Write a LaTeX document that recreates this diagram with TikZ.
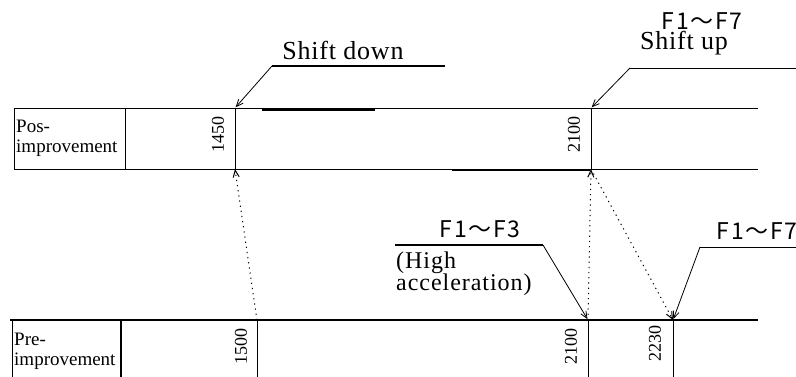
\documentclass[tikz,border=0pt]{standalone}
\usepackage{fontspec}
\setmainfont{Liberation Serif}
\newfontfamily\cjkfont{Noto Sans CJK JP}
\usetikzlibrary{arrows.meta,calc,positioning}
\tikzset{
  rowline/.style={line width=0.9pt,black},
  heavyline/.style={line width=2.4pt,black},
  boldline/.style={line width=1.8pt,black},
  tickline/.style={line width=0.8pt,black},
  underline/.style={line width=1.6pt,black},
  leader/.style={line width=0.8pt,-{Straight Barb[length=7pt,width=6pt]},shorten >=1pt},
  shiftline/.style={line width=1pt,dash pattern=on 1.2pt off 4pt,-{Straight Barb[length=7pt,width=6pt]}},
  ulabel/.style={font=\fontsize{26}{28}\selectfont\addfontfeature{LetterSpace=3},inner sep=0pt,anchor=base},
  blabel/.style={font=\fontsize{24}{22}\selectfont\addfontfeature{LetterSpace=4},inner sep=0pt,align=left,anchor=west},
  flabel/.style={font=\cjkfont\fontsize{23}{24}\selectfont\addfontfeature{LetterSpace=7},inner sep=0pt,text height=17pt,text depth=0pt},
  rowname/.style={font=\fontsize{19}{20}\selectfont,align=left,inner sep=0pt,anchor=west},
  speed/.style={font=\fontsize{18}{18}\selectfont,rotate=90,inner sep=0pt}
}

\begin{document}
\begin{tikzpicture}[x=1pt,y=-1pt]
  \useasboundingbox (0,0) rectangle (796,377);
  % post-improvement row
  \draw[rowline] (758,108) -- (14,108) -- (14,169) -- (758,169);
  \draw[rowline] (125,108) -- (125,169);
  \draw[boldline] (262,110) -- (375,110);
  \draw[boldline] (452,170) -- (590,170);
  \foreach \x/\n in {235/postA,591/postB}{
    \coordinate (\n) at (\x,108);
    \coordinate (\n-b) at (\x,169);
    \draw[tickline] (\n) -- (\n-b);
  }
  \node[rowname] (post) at (16,138) {Pos-\\improvement};
  \node[speed] (p1450) at (218,135) {1450};
  \node[speed] (p2100) at (574,135) {2100};
  % pre-improvement row
  \draw[heavyline] (10,320) -- (758,320);
  \draw[rowline] (12,320) -- (12,377);
  \draw[boldline] (121,320) -- (121,377);
  \foreach \x/\n in {257/preA,588/preB,673/preC}{
    \coordinate (\n) at (\x,320);
    \draw[tickline] (\n) -- (\x,377);
  }
  \node[rowname] (pre) at (14,351) {Pre-\\improvement};
  \node[speed] (r1500) at (241,346) {1500};
  \node[speed] (r2100) at (571,346) {2100};
  \node[speed] (r2230) at (655,343) {2230};
  % shift points moved
  \draw[shiftline] (preA) -- (postA-b);
  \draw[shiftline] (preB) -- (postB-b);
  \draw[shiftline] (postB-b) -- (preC);
  % callouts
  \node[ulabel] (down) at (343,60) {Shift down};
  \coordinate (downL) at (272,66);
  \coordinate (downR) at (445,66);
  \draw[underline] (downR) -- (downL);
  \draw[leader] (downL) -- (postA);

  \node[flabel] (upgear) at (702,21) {F1～F7};
  \node[ulabel] (up) at (684,50) {Shift up};
  \coordinate (upL) at (630,68);
  \coordinate (upR) at (796,68);
  \draw[rowline] (upR) -- (upL);
  \draw[leader] (upL) -- (postB);

  \node[flabel] (lowgear) at (480,229) {F1～F3};
  \node[blabel] (accel) at (396,274) {(High\\acceleration)};
  \coordinate (lowL) at (395,245);
  \coordinate (lowR) at (543,245);
  \draw[underline] (lowL) -- (lowR);
  \draw[leader] (lowR) -- (preB);

  \node[flabel] (allgear) at (757,231) {F1～F7};
  \coordinate (allL) at (700,247);
  \coordinate (allR) at (796,247);
  \draw[rowline] (allR) -- (allL);
  \draw[leader] (allL) -- (preC);
\end{tikzpicture}
\end{document}
